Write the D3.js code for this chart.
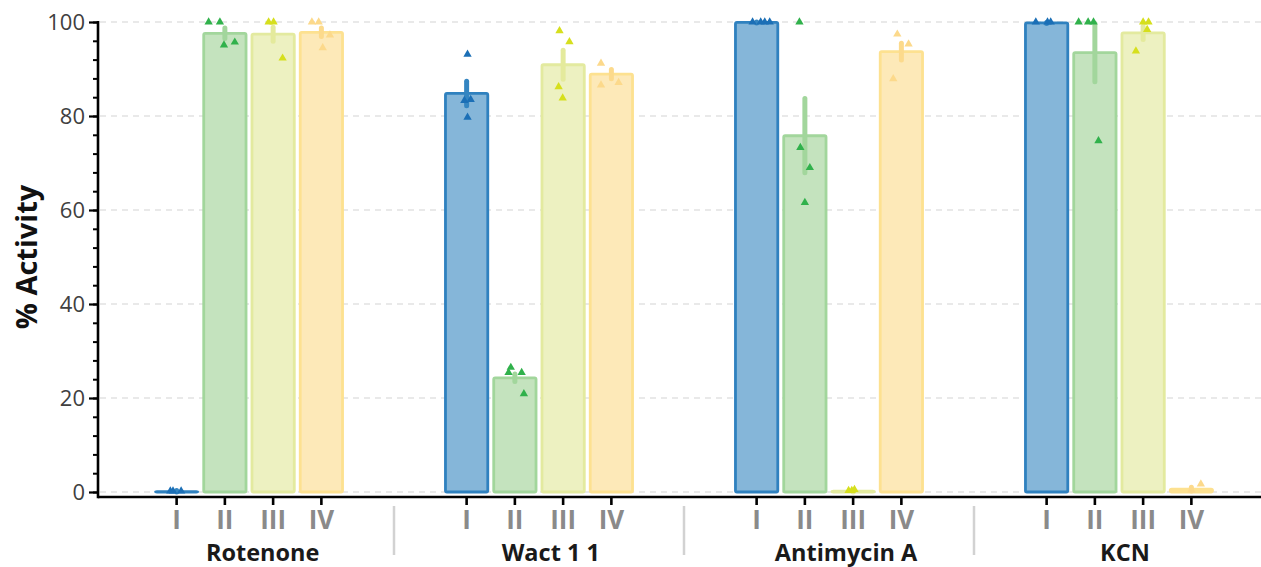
<!DOCTYPE html>
<html>
<head>
<meta charset="utf-8">
<script src="https://cdn.jsdelivr.net/npm/d3@7"></script>
<style>
  body { margin: 0; background: #fff; }
  svg { display: block; font-family: "Open Sans", "Noto Sans", sans-serif; }
</style>
</head>
<body>
<svg id="chart" width="1261" height="567"></svg>
<script>
// ---- data ----
const treatments = ["Rotenone", "Wact 1 1", "Antimycin A", "KCN"];
const complexes = ["I", "II", "III", "IV"];
const yTicks = [0, 20, 40, 60, 80, 100];

// mean % activity: one row per treatment, one column per complex
const meanActivity = [
  [0.1, 97.6, 97.4, 97.8],
  [84.8, 24.3, 90.9, 88.9],
  [99.9, 75.8, 0.2, 93.7],
  [99.8, 93.5, 97.7, 0.6]
];
// error (±) per bar
const errActivity = [
  [0.2, 1.1, 1.5, 0.9],
  [2.6, 0.8, 3.1, 1.0],
  [0.1, 7.9, 0.2, 1.8],
  [0.1, 6.2, 1.4, 0.4]
];
// individual replicate measurements
const replicates = [
  [[0.2, 0.2, 0.2], [100, 100, 95.1, 95.7], [100, 100, 92.3], [100, 100, 97.2, 94.5]],
  [[93.1, 83.3, 83.5, 79.7], [26.5, 25.4, 25.4, 20.9], [98.1, 95.8, 86.2, 83.8], [91.2, 86.6, 87.1]],
  [[100, 100, 100, 100], [100, 73.3, 69.0, 61.6], [0.3, 0.5, 0.3], [97.4, 95.3, 87.9]],
  [[100, 100, 100], [100, 100, 100, 74.7], [100, 100, 98.4, 93.8], [1.7, 0.4]]
];
// horizontal scatter of each replicate, as a fraction of the bar width
const spread = [
  [[-0.14, -0.08, 0.1], [-0.36, -0.11, -0.02, 0.22], [-0.1, 0.01, 0.21], [-0.21, -0.06, 0.19, 0.03]],
  [[0.02, -0.05, 0.09, 0.02], [-0.09, -0.14, 0.15, 0.2], [-0.08, 0.14, -0.1, -0.01], [-0.23, -0.23, 0.16]],
  [[-0.09, 0.09, 0.18, 0.29], [-0.12, -0.1, 0.11, 0], [-0.1, 0.03, -0.03], [-0.09, 0.16, -0.18]],
  [[-0.24, 0.02, 0.09], [-0.36, -0.15, -0.03, 0.08], [0, 0.12, 0.09, -0.16], [0.21, 0]]
];

// ---- styling ----
const barFill   = ["#85b6d9", "#c4e3be", "#edf1c1", "#fde9b8"];
const barStroke = ["#2f81bf", "#a2d69c", "#e3ea9f", "#fde190"];
const errColor  = ["#3485c1", "#a2d69c", "#e4ea9c", "#fcda8c"];
const dotColor  = ["#1b6fb6", "#30b14b", "#d6df1d", "#fcd98b"];

const svg = d3.select("#chart");
const W = 1261;
const axisY = 497;   // x-axis baseline
const axisX = 98;    // y-axis position

const y = d3.scaleLinear().domain([0, 100]).range([492, 22]);
const xGroup = d3.scaleBand().domain(treatments).range([104, 1264]);
const xInner = d3.scaleBand().domain(complexes)
  .range([48.5, 241.5]).paddingInner(0.065).paddingOuter(0.0325);

// ---- grid ----
svg.append("g").selectAll("line").data(yTicks).join("line")
  .attr("x1", axisX + 2).attr("x2", W)
  .attr("y1", d => y(d)).attr("y2", d => y(d))
  .attr("stroke", "#e2e2e2").attr("stroke-width", 1.5)
  .attr("stroke-dasharray", "6,5");

// ---- bars, error bars, replicates ----
const rows = treatments.map((t, ti) => complexes.map((c, ci) => ({
  t, c, ti, ci,
  mean: meanActivity[ti][ci],
  err: errActivity[ti][ci],
  pts: replicates[ti][ci].map((v, k) => ({ v, dx: spread[ti][ci][k] }))
}))).flat();

const bw = xInner.bandwidth();
const cx = d => xGroup(d.t) + xInner(d.c) + bw / 2;

const plot = svg.append("g");
plot.selectAll("rect").data(rows).join("rect")
  .attr("x", d => xGroup(d.t) + xInner(d.c) + 1.4)
  .attr("width", bw - 2.8)
  .attr("y", d => y(d.mean))
  .attr("height", d => y(0) - y(d.mean))
  .attr("rx", 1.5)
  .attr("fill", d => barFill[d.ci])
  .attr("stroke", d => barStroke[d.ci])
  .attr("stroke-width", 2.8);

plot.selectAll("line.err").data(rows).join("line")
  .attr("class", "err")
  .attr("x1", cx).attr("x2", cx)
  .attr("y1", d => y(Math.min(100, d.mean + d.err)))
  .attr("y2", d => y(Math.max(0, d.mean - d.err)))
  .attr("stroke", d => errColor[d.ci])
  .attr("stroke-width", 5)
  .attr("stroke-linecap", "round");

const tri = d3.symbol(d3.symbolTriangle, 30);
plot.selectAll("g.reps").data(rows).join("g")
  .attr("class", "reps")
  .selectAll("path").data(d => d.pts.map(p => ({ ...p, d }))).join("path")
  .attr("d", tri)
  .attr("transform", p => `translate(${cx(p.d) + p.dx * bw},${y(p.v)})`)
  .attr("fill", p => dotColor[p.d.ci]);

// ---- y axis ----
const yMinor = svg.append("g").attr("transform", `translate(${axisX},0)`)
  .call(d3.axisLeft(y).tickValues(d3.range(0, 101, 4)).tickSize(5).tickFormat(""));
yMinor.select(".domain").remove();
yMinor.selectAll("line").attr("stroke", "#000").attr("stroke-width", 2);

const yMajor = svg.append("g").attr("transform", `translate(${axisX},0)`)
  .call(d3.axisLeft(y).tickValues(yTicks).tickSize(9).tickPadding(4));
yMajor.select(".domain").remove();
yMajor.selectAll("line").attr("stroke", "#000").attr("stroke-width", 2.2);
yMajor.selectAll("text")
  .attr("font-size", 22).attr("fill", "#404040")
  .attr("font-family", "'Open Sans', sans-serif");

svg.append("line")
  .attr("x1", axisX).attr("x2", axisX)
  .attr("y1", y(100) - 1).attr("y2", axisY + 1.3)
  .attr("stroke", "#000").attr("stroke-width", 2.6);

svg.append("text")
  .attr("transform", `translate(37,${(y(0) + y(100)) / 2}) rotate(-90)`)
  .attr("text-anchor", "middle")
  .attr("font-size", 29).attr("font-weight", 700).attr("fill", "#111")
  .text("% Activity");

// ---- x axis ----
svg.append("line")
  .attr("x1", axisX).attr("x2", W)
  .attr("y1", axisY).attr("y2", axisY)
  .attr("stroke", "#000").attr("stroke-width", 2.6);

treatments.forEach(t => {
  const g = svg.append("g").attr("transform", `translate(${xGroup(t)},${axisY})`)
    .call(d3.axisBottom(xInner).tickSize(8).tickPadding(6));
  g.select(".domain").remove();
  g.selectAll("line").attr("stroke", "#000").attr("stroke-width", 2.6);
  g.selectAll("text")
    .attr("font-size", 26).attr("font-weight", 700).attr("fill", "#8a8a8a")
    .attr("font-family", "'Open Sans', sans-serif");
});

// separators between treatment groups
svg.append("g").selectAll("line").data(treatments.slice(1)).join("line")
  .attr("x1", d => xGroup(d)).attr("x2", d => xGroup(d))
  .attr("y1", 506).attr("y2", 555)
  .attr("stroke", "#d2d2d2").attr("stroke-width", 2.5);

// treatment names, nudged right a little in proportion to their width
svg.append("g").selectAll("text").data(treatments).join("text")
  .attr("x", d => xGroup(d) + xGroup.bandwidth() / 2)
  .attr("y", 561)
  .attr("text-anchor", "middle")
  .attr("font-size", 23.5).attr("font-weight", 700).attr("fill", "#1a1a1a")
  .text(d => d)
  .each(function () {
    const w = this.getComputedTextLength();
    d3.select(this).attr("dx", 0.12 * w);
  });
</script>
</body>
</html>
